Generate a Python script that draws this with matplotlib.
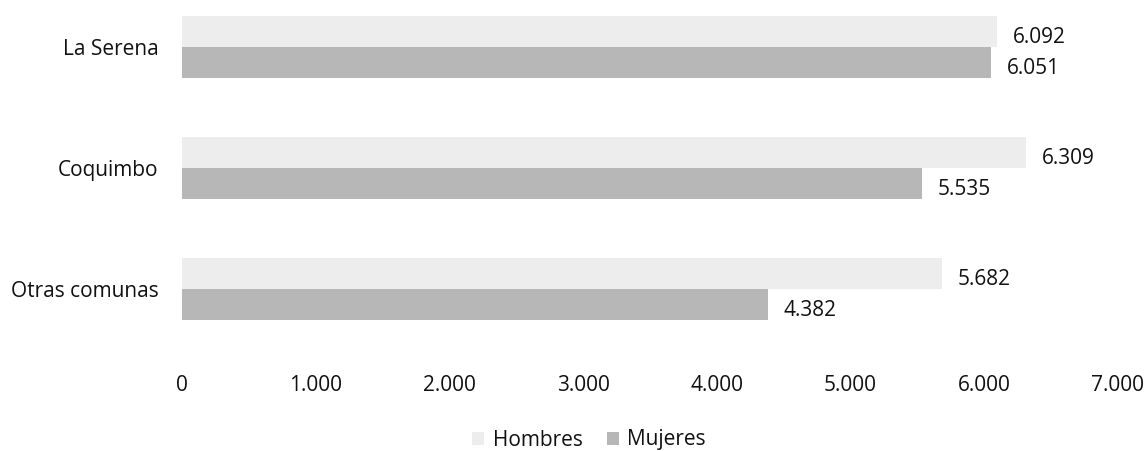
import matplotlib
matplotlib.use('Agg')
import matplotlib.pyplot as plt
import numpy as np

categorias = ['La Serena', 'Coquimbo', 'Otras comunas']
hombres = [6092, 6309, 5682]
mujeres = [6051, 5535, 4382]
xticks = [0, 1000, 2000, 3000, 4000, 5000, 6000, 7000]
xticklabels = ['0', '1.000', '2.000', '3.000', '4.000', '5.000', '6.000', '7.000']

plt.rcParams['font.family'] = ['Open Sans', 'DejaVu Sans']

W, H = 1144, 451
fig = plt.figure(figsize=(W / 100, H / 100), dpi=100)
# axes in pixel terms: x 182..1118, y 0..340 (from top)
ax = fig.add_axes([182 / W, 1 - 340 / H, (1118 - 182) / W, 340 / H])

y = np.arange(len(categorias))
h = 0.256
c_h = '#ededed'
c_m = '#b7b7b7'
ax.barh(y - h / 2, hombres, height=h, color=c_h, label='Hombres')
ax.barh(y + h / 2, mujeres, height=h, color=c_m, label='Mujeres')

fs = 15
for i in range(len(categorias)):
    ax.annotate(f'{hombres[i]:,}'.replace(',', '.'), (hombres[i], y[i] - h / 2),
                xytext=(11.5, -4.3), textcoords='offset points', va='center',
                fontsize=fs, color='#111111')
    ax.annotate(f'{mujeres[i]:,}'.replace(',', '.'), (mujeres[i], y[i] + h / 2),
                xytext=(11.5, -4.3), textcoords='offset points', va='center',
                fontsize=fs, color='#111111')

ax.set_xlim(0, 7000)
ax.set_ylim(2.42, -47 / 121)
ax.set_yticks(y)
ax.set_yticklabels(categorias, fontsize=fs)
ax.set_xticks(xticks)
ax.set_xticklabels(xticklabels, fontsize=fs)
ax.tick_params(axis='both', length=0, colors='#111111')
ax.tick_params(axis='x', pad=25)
ax.tick_params(axis='y', pad=17)
for s in ax.spines.values():
    s.set_visible(False)

fig.legend(loc='center', bbox_to_anchor=(589 / W, 1 - 440 / H), ncol=2, frameon=False,
           fontsize=fs, handlelength=0.6, handleheight=0.6, handletextpad=0.4,
           columnspacing=1.15, labelcolor='#111111')

fig.savefig('out.png', dpi=100)
